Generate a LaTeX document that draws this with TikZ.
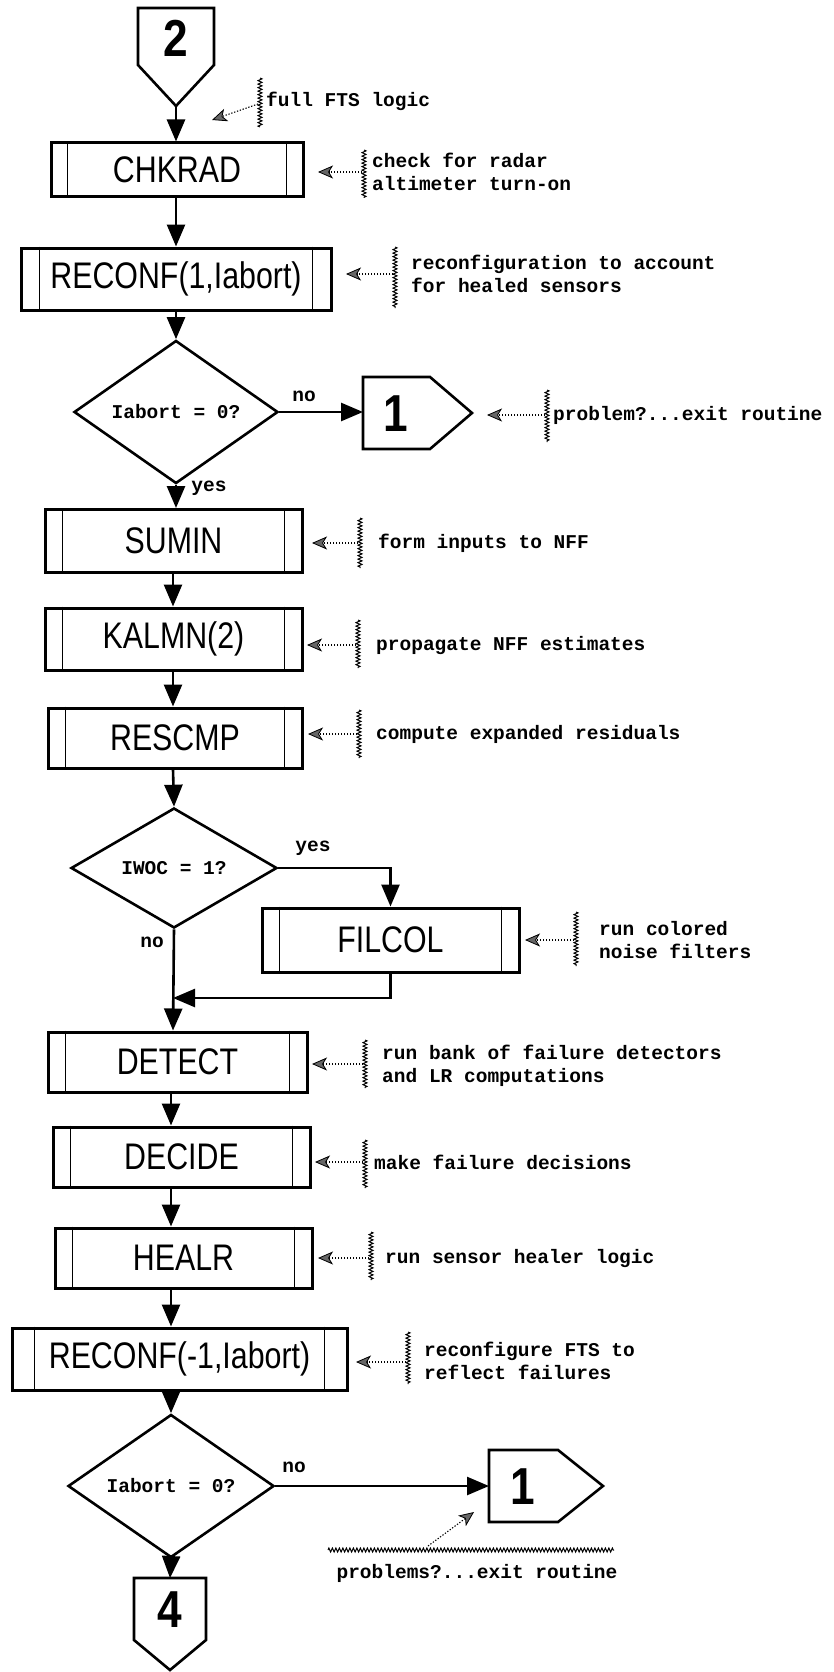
\documentclass[tikz,border=0pt]{standalone}
\usepackage{fontspec}
\setmainfont{Liberation Sans}
\newfontfamily\boxfont[FakeStretch=0.82]{Liberation Sans}
\newfontfamily\numfont[FakeStretch=0.85]{Liberation Sans}
\newfontfamily\annfont{Liberation Mono}
\usetikzlibrary{arrows.meta,decorations.pathmorphing,shapes.geometric,calc}
\tikzset{
  proc/.style={draw, line width=3pt, inner sep=0pt, font=\boxfont\fontsize{37}{37}\selectfont},
  bar/.style={line width=1.6pt},
  dec/.style={draw, diamond, line width=2.6pt, inner sep=0pt, font=\annfont\bfseries\fontsize{19.5}{19.5}\selectfont},
  conn/.style={line width=2.6pt, line join=miter},
  numf/.style={inner sep=0pt, font=\numfont\bfseries\fontsize{52}{52}\selectfont},
  arr/.style={line width=2.6pt, -{Triangle[length=22pt,width=18pt]}},
  lbl/.style={inner sep=0pt, font=\annfont\bfseries\fontsize{19.5}{19.5}\selectfont},
  ann/.style={inner sep=0pt, anchor=west, align=left, font=\annfont\bfseries\fontsize{19.5}{23}\selectfont},
  lead/.style={line width=1.1pt, dash pattern=on 1.3pt off 1.7pt, -{Stealth[length=15pt,width=13pt,inset=4pt,fill=black!60,line width=0.8pt]}},
  zig/.style={decorate, decoration={zigzag, amplitude=2pt, segment length=3.5pt}, line width=1pt},
}
\newcommand\sidebars[2]{%
  \draw[bar] ([xshift=#2]#1.north west) -- ([xshift=#2]#1.south west);
  \draw[bar] ([xshift=-#2]#1.north east) -- ([xshift=-#2]#1.south east);}
\begin{document}
\begin{tikzpicture}[x=1pt,y=-1pt]
\fill[white] (0,0) rectangle (833,1672);
\useasboundingbox (0,0) rectangle (833,1672);

% spine coordinates
\coordinate (X1) at (176,0);
\coordinate (X2) at (173,0);
\coordinate (X3) at (171,0);

% ---- connector 2 (top)
\draw[conn] (138,8) -- (214,8) -- (214,65) -- (176,106) -- (138,65) -- cycle;
\node[numf] (c2) at (176,38) {2};
\coordinate (c2tip) at (176,106);

% ---- boxes
\node[proc, minimum width=252pt, minimum height=54pt] (chkrad) at (177,170) {CHKRAD};
\sidebars{chkrad}{18pt}
\node[proc, minimum width=310pt, minimum height=62pt] (reconfA) at (176,279) {RECONF(1,Iabort)};
\sidebars{reconfA}{20pt}
\node[dec, minimum width=204pt, minimum height=120pt] (d1) at (176,412) {Iabort = 0?};

% connector 1 (first)
\draw[conn] (363,377) -- (430,377) -- (472,413) -- (430,449) -- (363,449) -- cycle;
\node[numf] (c1a) at (396,414) {1};
\coordinate (c1ain) at (363,413);

\node[proc, minimum width=257pt, minimum height=63pt] (sumin) at (173.5,541) {SUMIN};
\sidebars{sumin}{19pt}
\node[proc, minimum width=257pt, minimum height=62pt] (kalmn) at (173.5,639) {KALMN(2)};
\sidebars{kalmn}{19pt}
\node[proc, minimum width=254pt, minimum height=60pt] (rescmp) at (175,738) {RESCMP};
\sidebars{rescmp}{19pt}
\node[dec, minimum width=206pt, minimum height=120pt] (d2) at (174,868) {IWOC = 1?};
\node[proc, minimum width=257pt, minimum height=64pt] (filcol) at (390.5,940) {FILCOL};
\sidebars{filcol}{19pt}
\coordinate (merge) at (173,998);

\node[proc, minimum width=259pt, minimum height=60pt] (detect) at (177.5,1062) {DETECT};
\sidebars{detect}{19pt}
\node[proc, minimum width=257pt, minimum height=60pt] (decide) at (181.5,1157) {DECIDE};
\sidebars{decide}{19pt}
\node[proc, minimum width=257pt, minimum height=60pt] (healr) at (183.5,1258) {HEALR};
\sidebars{healr}{19pt}
\node[proc, minimum width=335pt, minimum height=62pt] (reconfB) at (179.5,1359) {RECONF(-1,Iabort)};
\sidebars{reconfB}{24pt}
\node[dec, minimum width=206pt, minimum height=122pt] (d3) at (171,1486) {Iabort = 0?};

% connector 1 (second)
\draw[conn] (489,1450) -- (558,1450) -- (603,1486) -- (558,1522) -- (489,1522) -- cycle;
\node[numf] (c1b) at (523,1487) {1};
\coordinate (c1bin) at (489,1486);

% connector 4
\draw[conn] (134,1578) -- (206,1578) -- (206,1640) -- (170,1670) -- (134,1640) -- cycle;
\node[numf] (c4) at (170,1610) {4};
\coordinate (c4top) at (170,1578);

% ---- flow arrows
\draw[arr] (c2tip) -- (chkrad.north -| X1);
\draw[arr] (chkrad.south -| X1) -- (reconfA.north -| X1);
\draw[arr] (reconfA.south -| X1) -- (d1.north);
\draw[arr] (d1.east) -- (d1.east -| c1ain);
\node[lbl] (no1) at (304,396) {no};
\draw[arr] (d1.south) -- (sumin.north -| X1);
\node[lbl] (yes1) at (209,488) {yes};
\draw[arr] (sumin.south -| X2) -- (kalmn.north -| X2);
\draw[arr] (kalmn.south -| X2) -- (rescmp.north -| X2);
\draw[arr] (rescmp.south -| X2) -- (d2.north);
\draw[arr] (d2.east) -| (filcol.north);
\node[lbl] (yes2) at (313,848) {yes};
\node[lbl] (no2) at (152,942) {no};
\draw[arr] (filcol.south) |- (merge);
\draw[arr] (d2.south) -- (detect.north -| X2);
\draw[arr] (detect.south -| X3) -- (decide.north -| X3);
\draw[arr] (decide.south -| X3) -- (healr.north -| X3);
\draw[arr] (healr.south -| X3) -- (reconfB.north -| X3);
\draw[arr] (reconfB.south -| X3) -- (d3.north);
\draw[arr] (d3.east) -- (d3.east -| c1bin);
\node[lbl] (no3) at (294,1467) {no};
\draw[arr] (d3.south) -- (c4top);

% ---- annotations
\draw[zig] (260,78) -- (260,127);
\draw[lead] (258,104) -- (212,120);
\node[ann] (t1) at (266,101) {full FTS logic};
\draw[zig] (364,150) -- (364,198);
\draw[lead] (362,172) -- (318,172);
\node[ann] (t2) at (372,172) {check for radar\\altimeter turn-on};
\draw[zig] (395,247) -- (395,308);
\draw[lead] (393,274) -- (346,274);
\node[ann] (t3) at (411,274) {reconfiguration to account\\for healed sensors};
\draw[zig] (547,390) -- (547,442);
\draw[lead] (545,415) -- (487,415);
\node[ann] (t4) at (553,415) {problem?...exit routine};
\draw[zig] (360,518) -- (360,568);
\draw[lead] (358,543) -- (312,543);
\node[ann] (t5) at (378,543) {form inputs to NFF};
\draw[zig] (358,620) -- (358,668);
\draw[lead] (356,645) -- (307,645);
\node[ann] (t6) at (376,645) {propagate NFF estimates};
\draw[zig] (359,710) -- (359,758);
\draw[lead] (357,734) -- (308,734);
\node[ann] (t7) at (376,734) {compute expanded residuals};
\draw[zig] (576,912) -- (576,966);
\draw[lead] (574,940) -- (525,940);
\node[ann] (t8) at (599,940) {run colored\\noise filters};
\draw[zig] (365,1040) -- (365,1088);
\draw[lead] (363,1064) -- (312,1064);
\node[ann] (t9) at (382,1066) {run bank of failure detectors\\and LR computations};
\draw[zig] (365,1140) -- (365,1188);
\draw[lead] (363,1162) -- (315,1162);
\node[ann] (t10) at (374,1162) {make failure decisions};
\draw[zig] (371,1232) -- (371,1280);
\draw[lead] (369,1258) -- (318,1258);
\node[ann] (t11) at (385,1258) {run sensor healer logic};
\draw[zig] (408,1332) -- (408,1384);
\draw[lead] (406,1362) -- (356,1362);
\node[ann] (t12) at (424,1361) {reconfigure FTS to\\reflect failures};
\draw[zig] (328,1550) -- (614,1550);
\draw[lead] (428,1546) -- (474,1512);
\node[lbl] (t13) at (477,1573) {problems?...exit routine};
\end{tikzpicture}
\end{document}
